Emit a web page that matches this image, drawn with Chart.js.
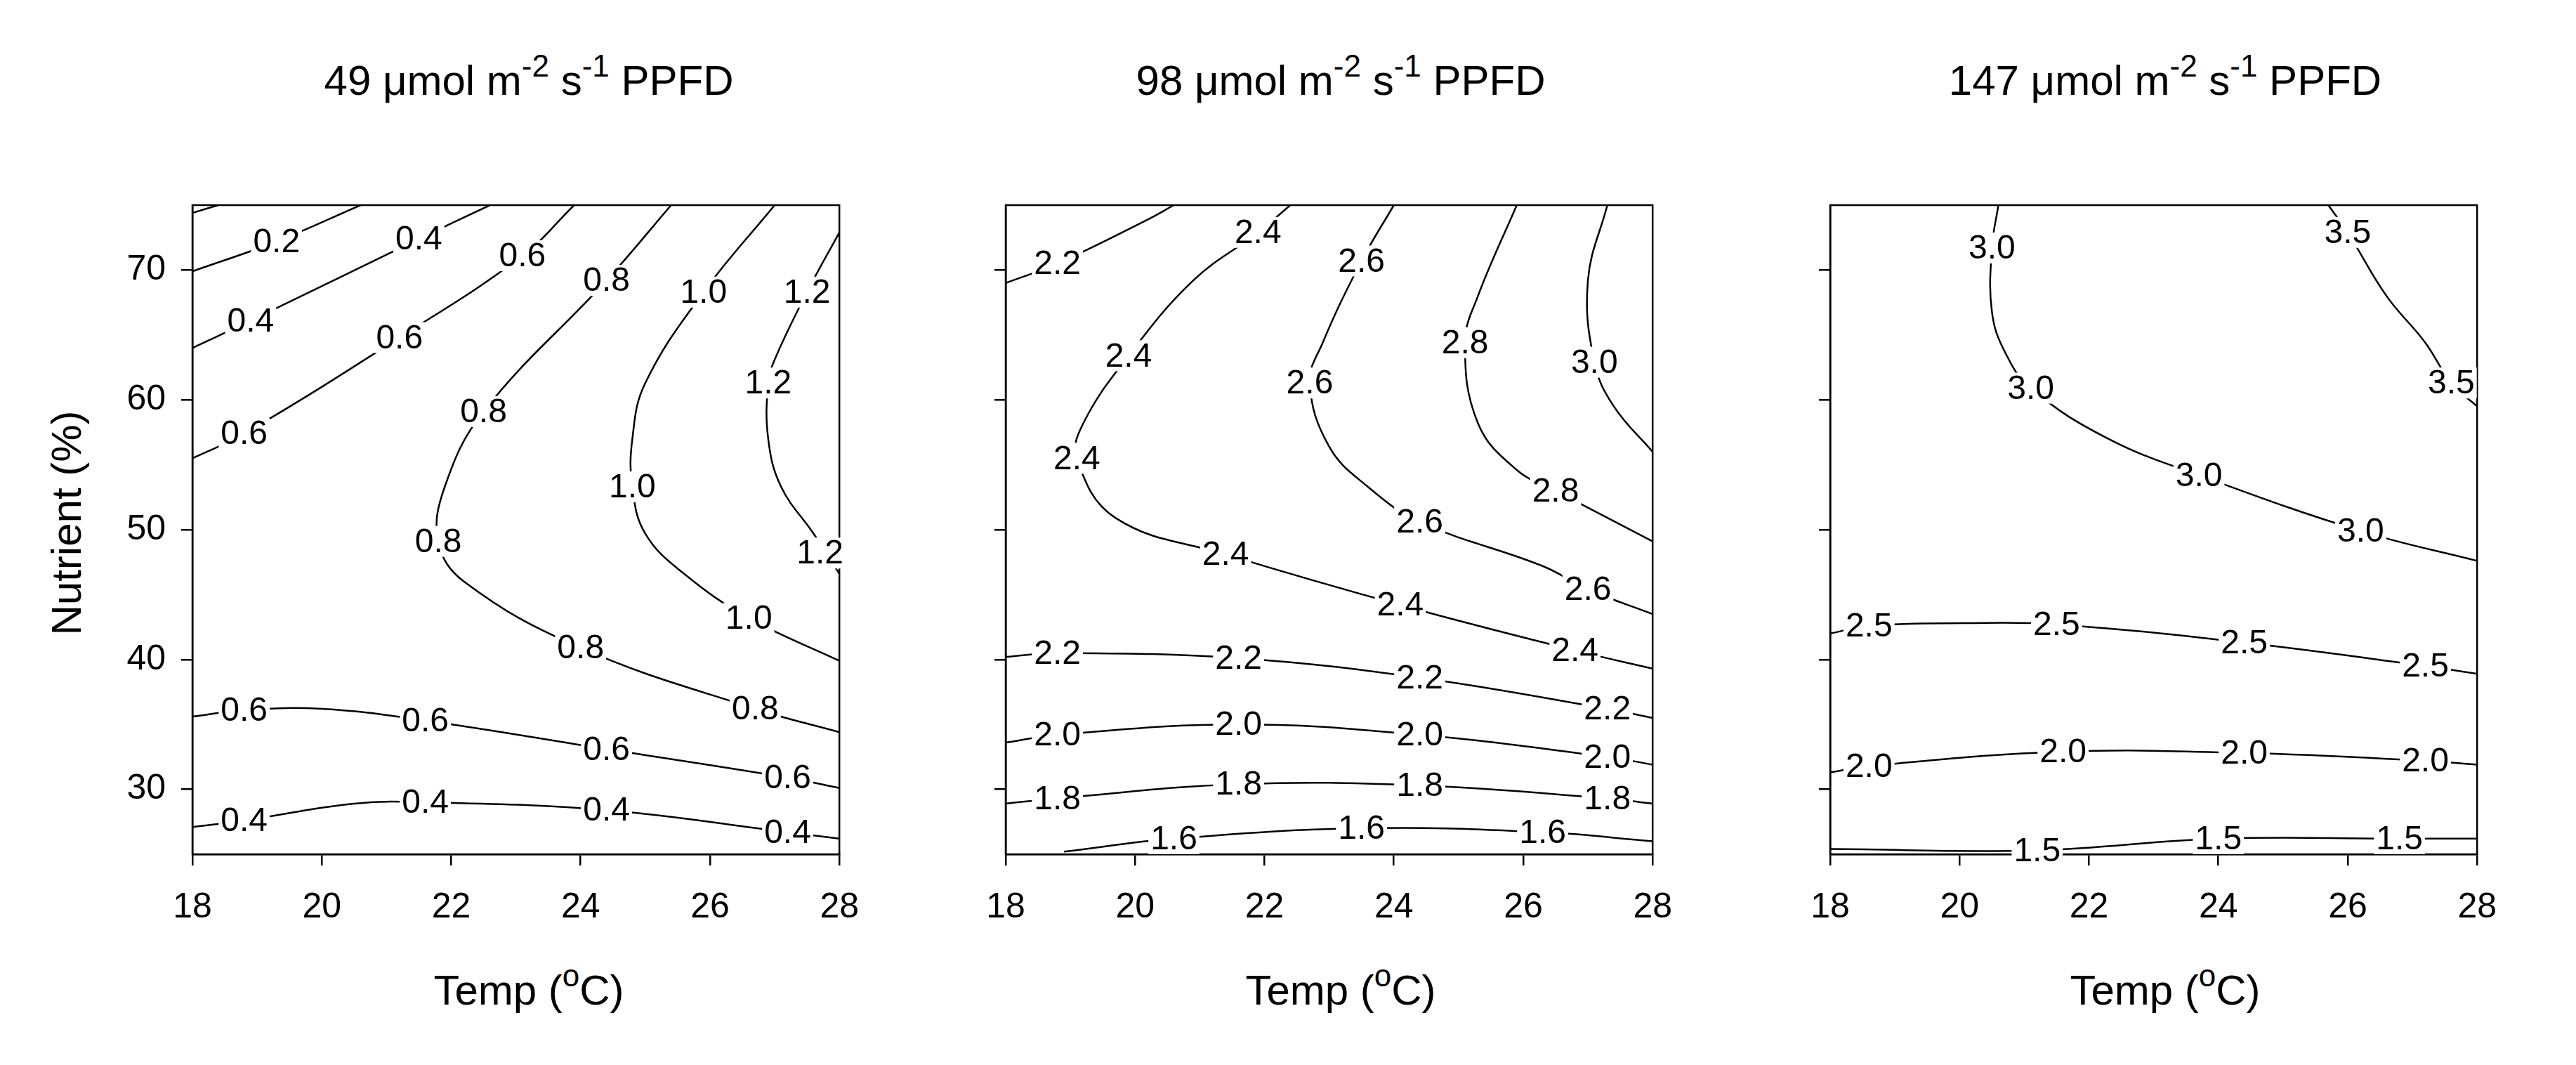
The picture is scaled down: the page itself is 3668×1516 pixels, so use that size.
<!DOCTYPE html>
<html><head><meta charset="utf-8">
<script src="https://cdn.jsdelivr.net/npm/chart.js@4"></script>
<style>
body{margin:0;width:3668px;height:1516px;background:#fff;position:relative;font-family:"Liberation Sans",Arial,sans-serif;overflow:hidden}
canvas{position:absolute}
.t{position:absolute;font-size:60px;white-space:nowrap;transform:translateX(-50%);color:#000}
.t sup{font-size:44px;vertical-align:26px;line-height:0}
</style></head><body>
<div class="t" style="left:753px;top:80px">49 μmol m<sup>-2</sup> s<sup>-1</sup> PPFD</div>
<div class="t" style="left:1909px;top:80px">98 μmol m<sup>-2</sup> s<sup>-1</sup> PPFD</div>
<div class="t" style="left:3083px;top:80px">147 μmol m<sup>-2</sup> s<sup>-1</sup> PPFD</div>
<div class="t" style="left:753px;top:1375px">Temp (<sup>o</sup>C)</div>
<div class="t" style="left:1909px;top:1375px">Temp (<sup>o</sup>C)</div>
<div class="t" style="left:3083px;top:1375px">Temp (<sup>o</sup>C)</div>
<div class="t" style="left:94px;top:710px;transform:translate(-50%,0) rotate(-90deg)">Nutrient (%)</div>
<canvas id="c0" width="1103" height="1096"></canvas><canvas id="c1" width="1103" height="1096"></canvas><canvas id="c2" width="1103" height="1096"></canvas>
<script>
const xTicks=[18,20,22,24,26,28];
const yTicks=[30,40,50,60,70];
// panel 1 (49 PPFD) contour lines [T, N]
const p1_00=[[18,74.4],[18.4,75]];
const p1_02=[[18,69.9],[19.3,72.2],[20.6,75]];
const p1_04a=[[18,64.0],[18.9,66.1],[21.5,72.4],[22.6,75]];
const p1_06a=[[18,55.5],[18.8,57.4],[21.2,64.8],[23.1,71.1],[23.9,75]];
const p1_08=[[25.4,75],[24.4,69.2],[22.5,59.1],[21.9,53.3],[21.8,49.1],[22.2,46.0],[24.0,40.9],[26.7,36.2],[28,34.4]];
const p1_10=[[27.0,75],[25.9,68.3],[25.0,61.3],[24.8,57.0],[24.8,53.3],[25.0,49.7],[25.6,46.6],[26.6,43.2],[28,39.9]];
const p1_12=[[28,72.9],[27.5,68.3],[27.0,63.1],[26.9,61.3],[26.9,57.0],[27.1,53.3],[27.6,49.7],[28,46.6]];
const p1_06b=[[18,35.6],[18.8,36.1],[20.0,36.2],[21.6,35.3],[24.4,33.1],[27.2,30.9],[28,30.1]];
const p1_04b=[[18,27.1],[18.8,27.6],[20.5,28.9],[21.6,29.0],[24.4,28.4],[27.2,26.7],[28,26.2]];
const p1_labels=[["0.2",19.3,72.2],["0.4",21.5,72.4],["0.6",23.1,71.1],["0.8",24.4,69.2],["1.0",25.9,68.3],["1.2",27.5,68.3],
["0.4",18.9,66.1],["0.6",21.2,64.8],["0.6",18.8,57.4],["0.8",22.5,59.1],["1.2",26.9,61.3],["1.0",24.8,53.3],["0.8",21.8,49.1],
["1.2",27.7,48.2],["1.0",26.6,43.2],["0.8",24.0,40.9],["0.8",26.7,36.2],["0.6",18.8,36.1],["0.6",21.6,35.3],["0.6",24.4,33.1],
["0.6",27.2,30.9],["0.4",18.8,27.6],["0.4",21.6,29.0],["0.4",24.4,28.4],["0.4",27.2,26.7]];
// panel 2 (98 PPFD)
const p2_22a=[[18,69.0],[18.8,70.5],[20.2,73.9],[20.6,75]];
const p2_24=[[22.4,75],[21.9,72.9],[20.9,69.2],[19.9,63.4],[19.2,58.2],[19.1,55.5],[19.7,50.9],[21.4,48.1],[24.1,44.2],[26.8,40.7],[28,39.3]];
const p2_26=[[24.0,75],[23.5,70.7],[22.9,64.4],[22.7,61.3],[23.0,56.4],[23.6,53.3],[24.4,50.6],[26.3,47.2],[27.0,45.4],[28,43.5]];
const p2_28=[[25.9,75],[25.3,68.0],[25.1,64.4],[25.3,58.2],[25.9,54.6],[26.5,53.0],[28,49.1]];
const p2_30=[[27.3,75],[27.0,69.2],[27.1,62.9],[27.4,59.5],[28,56.0]];
const p2_22b=[[18,40.2],[18.8,40.5],[21.6,40.1],[24.4,38.6],[27.3,36.2],[28,35.5]];
const p2_20=[[18,33.6],[18.8,34.2],[21.6,35.0],[24.4,34.2],[27.3,32.5],[28,31.9]];
const p2_18=[[18,28.9],[18.8,29.3],[21.6,30.4],[24.4,30.3],[27.3,29.3],[28,28.9]];
const p2_16=[[18.9,25.2],[20.6,26.2],[23.5,27.0],[26.3,26.7],[28,26.0]];
const p2_labels=[["2.2",18.8,70.5],["2.4",21.9,72.9],["2.6",23.5,70.7],["2.4",19.9,63.4],["2.6",22.7,61.3],["2.8",25.1,64.4],
["3.0",27.1,62.9],["2.4",19.1,55.5],["2.8",26.5,53.0],["2.6",24.4,50.6],["2.4",21.4,48.1],["2.6",27.0,45.4],["2.4",24.1,44.2],
["2.4",26.8,40.7],["2.2",18.8,40.5],["2.2",21.6,40.1],["2.2",24.4,38.6],["2.2",27.3,36.2],["2.0",18.8,34.2],["2.0",21.6,35.0],
["2.0",24.4,34.2],["2.0",27.3,32.5],["1.8",18.8,29.3],["1.8",21.6,30.4],["1.8",24.4,30.3],["1.8",27.3,29.3],
["1.6",20.6,26.2],["1.6",23.5,27.0],["1.6",26.3,26.7]];
// panel 3 (147 PPFD)
const p3_30=[[20.6,75],[20.5,71.7],[20.5,66.8],[20.7,63.7],[21.1,60.9],[22.3,57.0],[23.7,54.2],[26.2,49.9],[28,47.6]];
const p3_35=[[25.7,75],[26.0,72.9],[26.6,68.0],[27.2,64.4],[27.6,61.3],[28,59.5]];
const p3_25=[[18,42.0],[18.6,42.6],[20.1,42.8],[21.5,42.7],[24.4,41.3],[27.2,39.5],[28,38.9]];
const p3_20=[[18,31.3],[18.6,31.8],[21.6,32.9],[24.4,32.8],[27.2,32.2],[28,31.9]];
const p3_15=[[18,25.4],[21.2,25.3],[24.0,26.2],[26.8,26.2],[28,26.2]];
const p3_labels=[["3.0",20.5,71.7],["3.5",26.0,72.9],["3.0",21.1,60.9],["3.5",27.6,61.3],["3.0",23.7,54.2],["3.0",26.2,49.9],
["2.5",18.6,42.6],["2.5",21.5,42.7],["2.5",24.4,41.3],["2.5",27.2,39.5],["2.0",18.6,31.8],["2.0",21.6,32.9],["2.0",24.4,32.8],
["2.0",27.2,32.2],["1.5",21.2,25.3],["1.5",24.0,26.2],["1.5",26.8,26.2]];

const panels=[
 {lines:[p1_00,p1_02,p1_04a,p1_06a,p1_08,p1_10,p1_12,p1_06b,p1_04b],labels:p1_labels,left:150,showY:true},
 {lines:[p2_22a,p2_24,p2_26,p2_28,p2_30,p2_22b,p2_20,p2_18,p2_16],labels:p2_labels,left:1308,showY:false},
 {lines:[p3_30,p3_35,p3_25,p3_20,p3_15],labels:p3_labels,left:2482,showY:false}
];
const FONT="'Liberation Sans', Arial, sans-serif";
const labelPlugin={id:'lbl',afterDatasetsDraw(chart){
  const ctx=chart.ctx,a=chart.chartArea,xs=chart.scales.x,ys=chart.scales.y;
  ctx.save();ctx.strokeStyle='#000';ctx.lineWidth=2.5;ctx.strokeRect(a.left,a.top,a.right-a.left,a.bottom-a.top);
  ctx.font='48px '+FONT;ctx.textAlign='center';ctx.textBaseline='middle';
  for(const [t,x,y] of chart.options.plugins.lbl.items){
    const px=xs.getPixelForValue(x),py=ys.getPixelForValue(y);
    const w=ctx.measureText(t).width;
    ctx.fillStyle='#fff';ctx.fillRect(px-w/2-3,py-22,w+6,44);
    ctx.fillStyle='#000';ctx.fillText(t,px,py+2);
  }
  ctx.restore();
}};
panels.forEach((p,i)=>{
  const cv=document.getElementById('c'+i);
  cv.style.left=p.left+'px';cv.style.top='240px';
  cv.style.width='1103px';cv.style.height='1096px';
  new Chart(cv,{type:'scatter',
    data:{datasets:p.lines.map(l=>({data:l.map(([x,y])=>({x,y})),showLine:true,pointRadius:0,borderColor:'#000',borderWidth:2.5,tension:0.4}))},
    options:{responsive:false,devicePixelRatio:1,animation:false,
      layout:{padding:{top:24,right:20,left:0,bottom:0}},
      plugins:{legend:{display:false},tooltip:{enabled:false},lbl:{items:p.labels}},
      scales:{
        x:{type:'linear',min:18,max:28,afterBuildTicks:s=>{s.ticks=xTicks.map(v=>({value:v}))},
          afterFit:s=>{s.height=120},
          grid:{display:true,drawOnChartArea:false,drawTicks:true,tickLength:16,color:'#000',lineWidth:2.5},
          border:{display:true,color:'#000',width:2.5},
          ticks:{color:'#000',font:{size:50,family:FONT},padding:30,maxRotation:0}},
        y:{type:'linear',min:25,max:75,afterBuildTicks:s=>{s.ticks=yTicks.map(v=>({value:v}))},
          afterFit:s=>{s.width=124},
          grid:{display:true,drawOnChartArea:false,drawTicks:true,tickLength:16,color:'#000',lineWidth:2.5},
          border:{display:true,color:'#000',width:2.5},
          ticks:{color:'#000',font:{size:50,family:FONT},padding:22,callback:v=>p.showY?String(v):''}}
      }},
    plugins:[labelPlugin]});
});
</script></body></html>
